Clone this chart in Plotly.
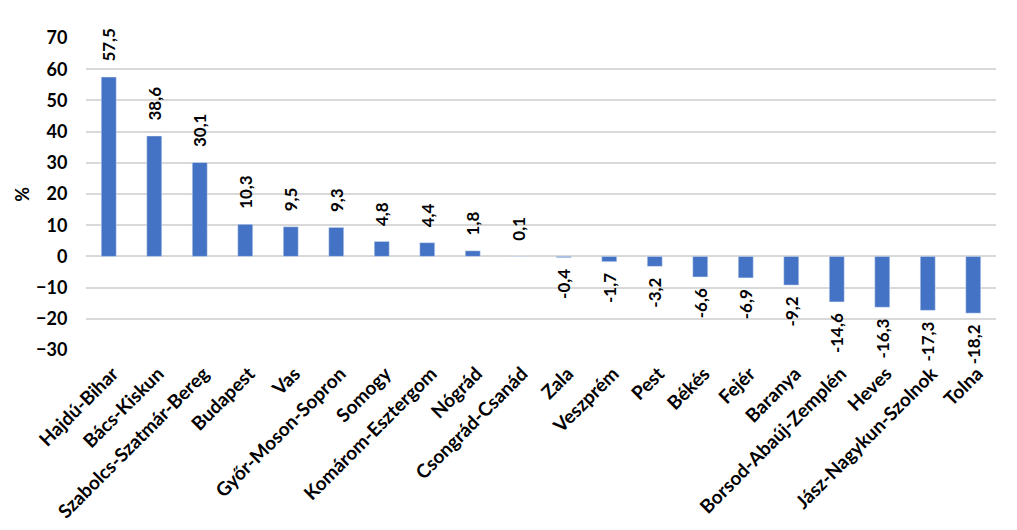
import plotly.graph_objects as go

categories = ["Hajdú-Bihar", "Bács-Kiskun", "Szabolcs-Szatmár-Bereg", "Budapest", "Vas",
              "Győr-Moson-Sopron", "Somogy", "Komárom-Esztergom", "Nógrád", "Csongrád-Csanád",
              "Zala", "Veszprém", "Pest", "Békés", "Fejér", "Baranya",
              "Borsod-Abaúj-Zemplén", "Heves", "Jász-Nagykun-Szolnok", "Tolna"]
values = [57.5, 38.6, 30.1, 10.3, 9.5, 9.3, 4.8, 4.4, 1.8, 0.1,
          -0.4, -1.7, -3.2, -6.6, -6.9, -9.2, -14.6, -16.3, -17.3, -18.2]
y_ticks = [-30, -20, -10, 0, 10, 20, 30, 40, 50, 60, 70]

labels = []
for v in values:
    s = f"{v:.1f}".replace(".", ",")
    labels.append("\u00a0\u00a0\u00a0" + s if v >= 0 else s + "\u00a0\u00a0")

FONT = "Lato"

fig = go.Figure(go.Bar(
    x=categories, y=values, text=labels, textposition="outside",
    textangle=-90, cliponaxis=False,
    textfont=dict(family=FONT, size=17, color="black", weight="bold"),
    marker=dict(color="#4472C4"),
))

fig.update_layout(
    width=1017, height=530,
    margin=dict(l=78, r=29, t=30, b=188),
    plot_bgcolor="white", paper_bgcolor="white",
    bargap=0.67, showlegend=False,
    uniformtext=dict(minsize=17, mode="show"),
    font=dict(family=FONT, color="black"),
    annotations=[dict(text="%", textangle=-90, xref="paper", yref="paper",
                      x=-0.085, y=0.5, showarrow=False,
                      font=dict(family=FONT, size=18, weight="bold"))],
)
fig.update_yaxes(
    range=[-30, 70], tickvals=y_ticks, showgrid=True, gridcolor="#D9D9D9", gridwidth=1.5,
    zeroline=True, zerolinecolor="#D9D9D9", zerolinewidth=1.5,
    tickfont=dict(family=FONT, size=18, weight="bold"), ticks="outside", ticklen=14,
    tickcolor="rgba(0,0,0,0)", automargin=False,
    showline=False,
)
fig.update_xaxes(
    tickangle=-45, tickfont=dict(family=FONT, size=19, weight="bold"),
    showline=False, showgrid=False, ticks="", automargin=False,
    ticklabelshift=4, ticklabelstandoff=8,
)

fig.write_html("out.html")
